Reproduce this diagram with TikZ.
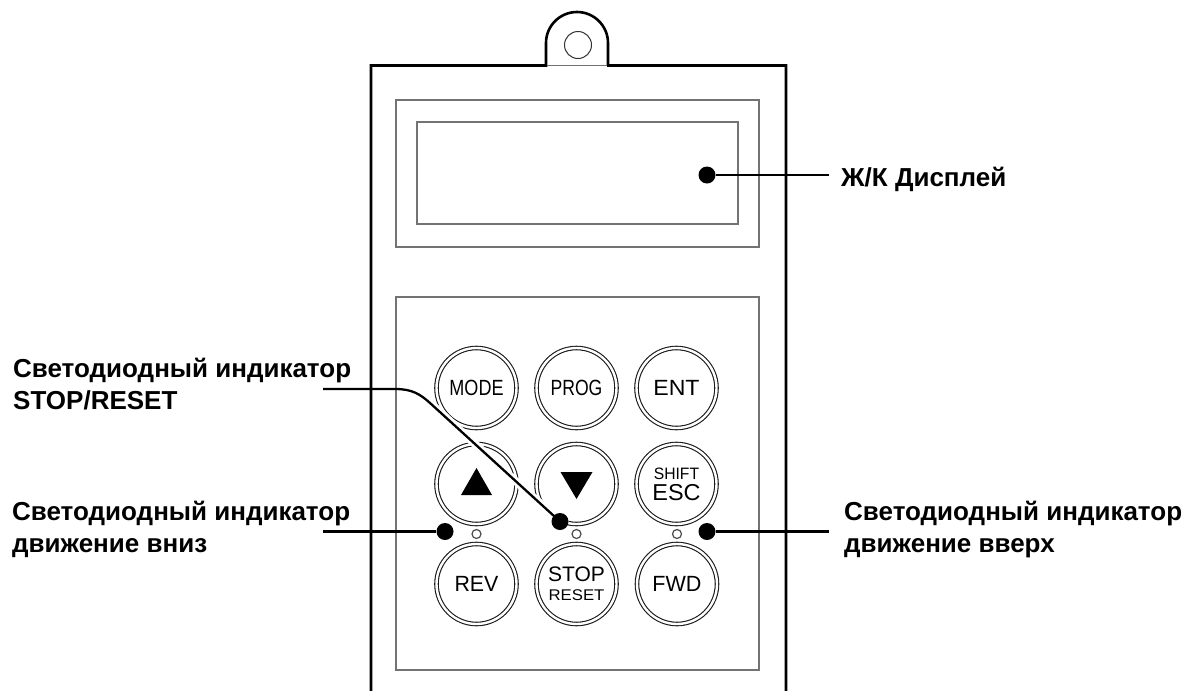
\documentclass[tikz,border=0pt]{standalone}
\usepackage{fontspec}
\usepackage{graphicx}
\usetikzlibrary{calc}
\setmainfont{Liberation Sans}
\tikzset{
    keybtn/.style={draw=black!90, circle, double, double distance=2.4pt, line width=1.1pt, minimum size=80pt, inner sep=0pt, align=center, font=\fontsize{22}{22}\selectfont},
    ledlamp/.style={draw=black!70, circle, line width=1.2pt, minimum size=9pt, inner sep=0pt},
    pointdot/.style={fill=black, circle, minimum size=17pt, inner sep=0pt},
    calltext/.style={anchor=base west, align=left, inner sep=0pt, font=\fontsize{26}{32}\selectfont\bfseries},
    leader/.style={line width=2.3pt},
    panelline/.style={draw=black!55, line width=1.5pt},
    bodyline/.style={line width=2.6pt}
}
\newcommand{\keylabel}[2][0.84]{\scalebox{#1}[1]{#2}}
\begin{document}
\begin{tikzpicture}[x=1pt, y=-1pt]
    \useasboundingbox (0,0) rectangle (1184,691);

    % housing
    \draw[bodyline] (371,691) -- (371,65.5) -- (546,65.5) -- (546,43) arc[start angle=180, end angle=360, radius=31] -- (608,65.5) -- (786,65.5) -- (786,691);
    \draw[draw=white, line width=2pt] (547.5,65.5) -- (606.5,65.5);
    \draw[draw=black!55, line width=1pt] (547,65.5) -- (607,65.5);
    \node[draw=black!80, circle, line width=1pt, minimum size=27pt, inner sep=0pt] (hole) at (578,45) {};

    % panels
    \draw[panelline] (396,100) rectangle (759,247);
    \draw[panelline] (417,122) rectangle (738,224);
    \draw[panelline] (396,297) rectangle (759,670);

    % keys
    \node[keybtn] (mode) at (476.5,388) {\keylabel[0.82]{MODE}};
    \node[keybtn] (prog) at (576.5,388) {\keylabel[0.8]{PROG}};
    \node[keybtn] (ent) at (676.5,388) {\keylabel[1.05]{ENT}};
    \node[keybtn] (up) at (476.5,484) {};
    \node[keybtn] (down) at (576.5,484) {};
    \node[keybtn] (shift) at (676.5,484) {\fontsize{16.5}{15}\selectfont\keylabel[0.95]{SHIFT}\\[-1pt]\fontsize{23}{20}\selectfont\keylabel[1.02]{ESC}};
    \node[keybtn] (rev) at (476.5,584) {\keylabel[0.97]{REV}};
    \node[keybtn] (stop) at (576.5,584) {\fontsize{21}{16}\selectfont\keylabel[1.0]{STOP}\\[-3pt]\fontsize{15.5}{15}\selectfont\keylabel[1.08]{RESET}};
    \node[keybtn] (fwd) at (677,584) {\keylabel[0.98]{FWD}};
    \fill ($(up)+(-15.5,11)$) -- ($(up)+(15.5,11)$) -- ($(up)+(0,-16)$) -- cycle;
    \fill ($(down)+(-16,-12)$) -- ($(down)+(16,-12)$) -- ($(down)+(0,15)$) -- cycle;

    % indicators
    \node[ledlamp] (ledrev) at (476.5,534) {};
    \node[ledlamp] (ledstop) at (576.5,534) {};
    \node[ledlamp] (ledfwd) at (677,534) {};

    % callouts
    \coordinate (bendstop) at (430,403);
    \coordinate (endlcd) at (829,175);
    \coordinate (endstop) at (323,389);
    \coordinate (endrev) at (323,531.5);
    \coordinate (endfwd) at (829,531.5);
    \coordinate (tipstop) at (560,521.5);

    \draw[white, line width=8pt] (tipstop) -- (bendstop);
    \draw[white, line width=13pt] (tipstop) -- +(6,4);
    \draw[leader] (endstop) -- (395,389) .. controls (412,389) and (420,394) .. (bendstop) -- (tipstop);

    \node[pointdot] (dotlcd) at (707,175) {};
    \node[pointdot] (dotstop) at (tipstop) {};
    \node[pointdot] (dotrev) at (445,531.5) {};
    \node[pointdot] (dotfwd) at (707,531.5) {};

    \draw[leader] (dotlcd) -- (endlcd);
    \draw[leader] (dotrev) -- (endrev);
    \draw[leader] (dotfwd) -- (endfwd);

    \node[calltext] (txtlcd) at (841,186) {Ж/К Дисплей};
    \node[calltext] (txtstop) at (13,409) {Светодиодный индикатор\\STOP/RESET};
    \node[calltext] (txtrev) at (12,552) {Светодиодный индикатор\\движение вниз};
    \node[calltext] (txtfwd) at (844,552.5) {Светодиодный индикатор\\движение вверх};
\end{tikzpicture}
\end{document}
